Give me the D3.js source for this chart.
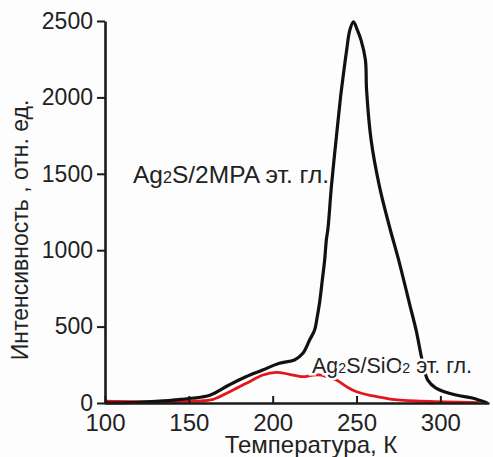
<!DOCTYPE html>
<html>
<head>
<meta charset="utf-8">
<script src="https://cdn.jsdelivr.net/npm/d3@7"></script>
<style>
  body { margin: 0; background: #fdfdfd; }
  svg { display: block; font-family: "Liberation Sans", Arial, sans-serif; }
</style>
</head>
<body>
<svg id="chart" width="493" height="457"></svg>
<script>
// temperature (K) / intensity readings
const mpaTemp = [100, 120, 135, 145, 152, 162.5, 174, 184, 194, 204, 213, 218, 222, 225, 226.5, 228, 229.6, 231, 232, 233, 235, 238, 240.5, 242, 244, 246, 248.2, 250.5, 252.7, 255.3, 256, 258.7, 263.7, 269.5, 275.6, 281.5, 285.5, 289.5, 292.5, 297.4, 309.3, 319, 328];
const mpaInt  = [0, 5, 14, 24, 31, 50, 118, 172, 216, 260, 281, 325, 412, 478, 560, 660, 805, 936, 1067, 1145, 1416, 1743, 2005, 2136, 2300, 2440, 2495, 2440, 2375, 2245, 2048, 1721, 1416, 1160, 916, 654, 478, 262, 150, 98, 52, 33, 0];

const sioTemp = [100, 130, 145, 155, 164.5, 174.4, 184.3, 194.2, 202, 210, 218, 224, 229, 232, 238, 244, 250, 260, 270, 285.5, 303, 323];
const sioInt  = [12, 8, 10, 12, 24, 74, 129, 183, 201, 188, 172, 183, 183, 172, 150, 107, 74, 46, 26, 13, 8, 2];

const xTicks = [100, 150, 200, 250, 300];
const yTicks = [0, 500, 1000, 1500, 2000, 2500];

const svg = d3.select("#chart");
const x = d3.scaleLinear().domain([100, 329]).range([105, 489]);
const y = d3.scaleLinear().domain([0, 2500]).range([403, 21]);

const line = d3.line()
  .x(d => x(d[0]))
  .y(d => y(d[1]))
  .curve(d3.curveCatmullRom.alpha(0.5));

svg.append("path")
  .datum(d3.zip(sioTemp, sioInt))
  .attr("d", line)
  .attr("fill", "none")
  .attr("stroke", "#e3161b")
  .attr("stroke-width", 2.8);

svg.append("path")
  .datum(d3.zip(mpaTemp, mpaInt))
  .attr("d", line)
  .attr("fill", "none")
  .attr("stroke", "#111")
  .attr("stroke-width", 3.2);

// axes
const xAxis = svg.append("g")
  .attr("transform", `translate(0,${y(0)})`)
  .call(d3.axisBottom(x).tickValues(xTicks).tickFormat(d3.format("d"))
    .tickSizeInner(-7).tickSizeOuter(0).tickPadding(11));
const yAxis = svg.append("g")
  .attr("transform", `translate(${x(100)},0)`)
  .call(d3.axisLeft(y).tickValues(yTicks).tickFormat(d3.format("d"))
    .tickSizeInner(8).tickSizeOuter(0).tickPadding(4));

[xAxis, yAxis].forEach(g => {
  g.select(".domain").attr("stroke", "#1a1a1a").attr("stroke-width", 2.6);
  g.selectAll(".tick line").attr("stroke", "#1a1a1a").attr("stroke-width", 2);
  g.selectAll(".tick text").attr("fill", "#222").attr("font-family", null);
});
xAxis.selectAll(".tick text").attr("font-size", 24);
yAxis.selectAll(".tick text").attr("font-size", 23);

// axis titles
svg.append("text")
  .attr("x", 311).attr("y", 453)
  .attr("text-anchor", "middle")
  .attr("font-size", 24)
  .attr("fill", "#222")
  .text("Температура, К");

svg.append("text")
  .attr("transform", "translate(28,230) rotate(-90)")
  .attr("text-anchor", "middle")
  .attr("font-size", 23)
  .attr("fill", "#222")
  .text("Интенсивность , отн. ед.");

// series labels
function seriesLabel(px, py, size, parts, halo) {
  const t = svg.append("text")
    .attr("x", px).attr("y", py)
    .attr("font-size", size)
    .attr("fill", "#222");
  if (halo) {
    t.attr("stroke", "#fdfdfd").attr("stroke-width", 5).attr("paint-order", "stroke");
  }
  parts.forEach(p => {
    t.append("tspan")
      .attr("font-size", p.sub ? size * 0.66 : size)
      .text(p.s);
  });
}
seriesLabel(133, 183, 24.5, [{s: "Ag"}, {s: "2", sub: true}, {s: "S/2MPA эт. гл."}], false);
seriesLabel(312, 373, 21.5, [{s: "Ag"}, {s: "2", sub: true}, {s: "S/SiO"}, {s: "2", sub: true}, {s: " эт. гл."}], true);
</script>
</body>
</html>
